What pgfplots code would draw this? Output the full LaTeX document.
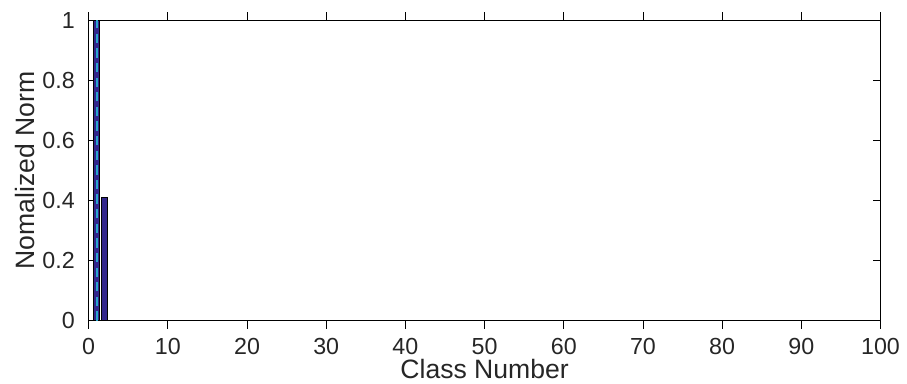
\documentclass[border=0pt]{standalone}
\usepackage{pgfplots}
\pgfplotsset{compat=1.18}
\usepackage{fontspec}
\setmainfont{Liberation Sans}
\definecolor{barblue}{RGB}{50,38,140}
\definecolor{dashcyan}{RGB}{40,165,205}
\begin{document}
\begin{tikzpicture}
\begin{axis}[
  width=596pt, height=226pt, scale only axis,
  xmin=0, xmax=100, ymin=0, ymax=1,
  xtick={0,10,...,100},
  ytick={0,0.2,...,1},
  yticklabels={0,0.2,0.4,0.6,0.8,1},
  tick align=inside,
  tick pos=both,
  major tick length=6pt,
  axis line style={line width=0.8pt},
  tick style={line width=0.6pt, black},
  /pgf/number format/assume math mode=true,
  tick label style={font=\fontsize{17.5}{19}\selectfont, text=black!85},
  label style={font=\fontsize{20}{22}\selectfont, text=black!85},
  xlabel={Class Number},
  ylabel={Nomalized Norm},
  xlabel style={yshift=3.5pt},
  ylabel style={yshift=-1pt},
  xticklabel style={yshift=-4pt},
  yticklabel style={xshift=-7pt},
  ybar, bar width=0.8,
  clip=true,
]
\addplot[fill=barblue, draw=black, line width=1pt] coordinates {
(1,1.0) (2,0.41) (3,0.001) (4,0.001) (5,0.001) (6,0.001) (7,0.001) (8,0.001) (9,0.001) (10,0.001)
(11,0.001) (12,0.001) (13,0.001) (14,0.001) (15,0.001) (16,0.001) (17,0.001) (18,0.001) (19,0.001) (20,0.001)
(21,0.001) (22,0.001) (23,0.001) (24,0.001) (25,0.001) (26,0.001) (27,0.001) (28,0.001) (29,0.001) (30,0.001)
(31,0.001) (32,0.001) (33,0.001) (34,0.001) (35,0.001) (36,0.001) (37,0.001) (38,0.001) (39,0.001) (40,0.001)
(41,0.001) (42,0.001) (43,0.001) (44,0.001) (45,0.001) (46,0.001) (47,0.001) (48,0.001) (49,0.001) (50,0.001)
(51,0.001) (52,0.001) (53,0.001) (54,0.001) (55,0.001) (56,0.001) (57,0.001) (58,0.001) (59,0.001) (60,0.001)
(61,0.001) (62,0.001) (63,0.001) (64,0.001) (65,0.001) (66,0.001) (67,0.001) (68,0.001) (69,0.001) (70,0.001)
(71,0.001) (72,0.001) (73,0.001) (74,0.001) (75,0.001) (76,0.001) (77,0.001) (78,0.001) (79,0.001) (80,0.001)
(81,0.001) (82,0.001) (83,0.001) (84,0.001) (85,0.001) (86,0.001) (87,0.001) (88,0.001) (89,0.001) (90,0.001)
(91,0.001) (92,0.001) (93,0.001) (94,0.001) (95,0.001) (96,0.001) (97,0.001) (98,0.001) (99,0.001) (100,0.001)
};
\addplot[sharp plot, dashcyan, line width=1.4pt, dash pattern=on 7pt off 4pt, forget plot] coordinates {(1,0) (1,1)};
\end{axis}
\path (current bounding box.north west) ++(-8pt,6pt);
\path (current bounding box.south east) ++(2pt,0pt);
\end{tikzpicture}
\end{document}
